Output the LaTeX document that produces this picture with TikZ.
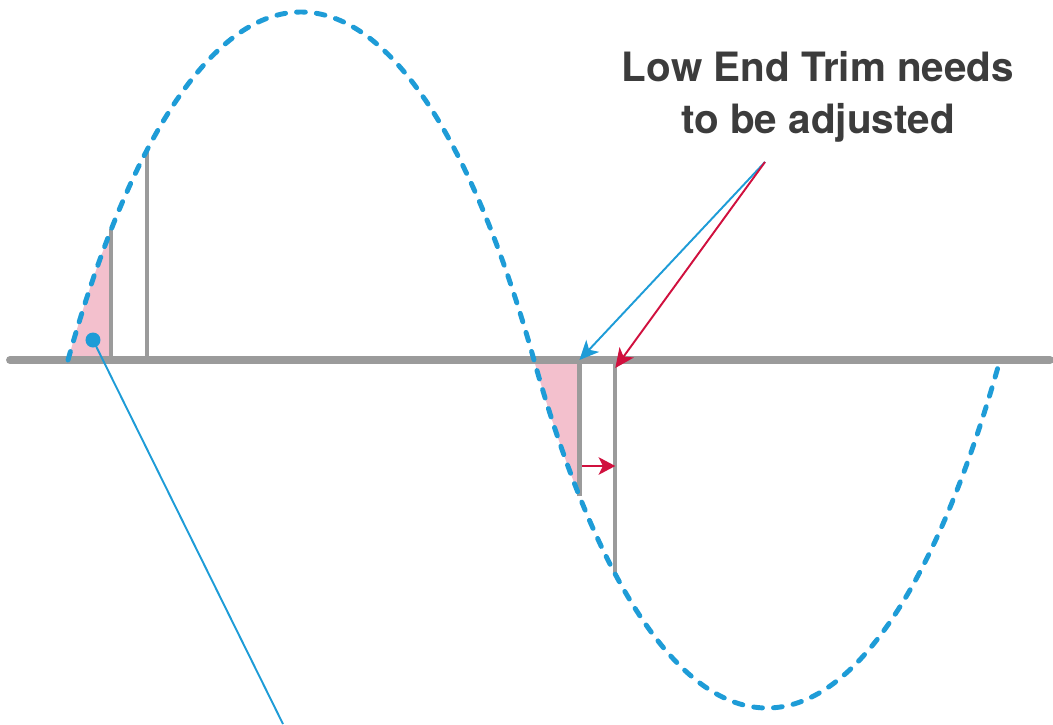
\documentclass[tikz,border=0pt]{standalone}
\usepackage{fontspec}
\setmainfont{TeX Gyre Heros}
\usepackage{tikz}
\usetikzlibrary{
    arrows.meta,
    calc
}

\definecolor{waveblue}{RGB}{30,156,215}
\definecolor{trimred}{RGB}{208,16,62}
\definecolor{trimpink}{RGB}{243,192,205}
\definecolor{axisgray}{RGB}{155,155,155}
\definecolor{textgray}{RGB}{60,60,60}

\begin{document}
\begin{tikzpicture}[scale=1,
    wave/.style={waveblue, line width=2.8pt, dash pattern=on 5pt off 6.3pt, line cap=round},
    stem/.style={axisgray, line width=2.4pt},
    blueptr/.style={waveblue, line width=1.1pt, -{Stealth[length=11pt,width=10pt,inset=3pt]}},
    redptr/.style={trimred, line width=1.1pt, -{Stealth[length=11pt,width=10pt,inset=3pt]}}
]
\useasboundingbox (-1.36,-7.28) rectangle (19.70,7.20);

\coordinate (o) at (0,0);

% points on the wave
\path (0,0) .. controls (2.6,9.28) and (6.72,9.28) .. (9.32,0)
  coordinate[pos=0.105] (a1) coordinate[pos=0.185] (a2);
\path (9.32,0) .. controls (11.92,-9.28) and (16.04,-9.28) .. (18.64,0)
  coordinate[pos=0.11] (b1) coordinate[pos=0.19] (b2);

% trimmed parts
\begin{scope}
  \clip (0,0) rectangle (a1);
  \fill[trimpink] (0,0) .. controls (2.6,9.28) and (6.72,9.28) .. (9.32,0) -- cycle;
\end{scope}
\begin{scope}
  \clip (9.32,0) rectangle (b1);
  \fill[trimpink] (9.32,0) .. controls (11.92,-9.28) and (16.04,-9.28) .. (18.64,0) -- cycle;
\end{scope}

% axis
\draw[axisgray, line width=4.5pt, line cap=round] (-1.16,0) -- (19.64,0);

% samples
\foreach \p in {a1,a2,b1,b2}
  \draw[stem] (\p) -- (\p |- o);

% wave
\draw[wave] (0,0) .. controls (2.6,9.28) and (6.72,9.28) .. (9.32,0)
  .. controls (11.92,-9.28) and (16.04,-9.28) .. (18.64,0);

% label and pointers
\node[textgray, font=\bfseries\fontsize{23}{29.5}\selectfont, align=center]
  (label) at (15.0,5.26) {Low End Trim needs\\to be adjusted};
\coordinate (src) at (13.94,3.96);
\coordinate (tipR) at ($(b2 |- o)+(0,-0.16)$);
\draw[blueptr] (src) -- (b1 |- o);
\draw[redptr] (src) -- (tipR);

\coordinate (s0) at (10.28,-2.12);
\draw[trimred, line width=1.1pt, -{Stealth[length=9.5pt,width=10pt,inset=2.5pt]}] (s0) -- (s0 -| b2);

% marker
\coordinate (dot) at (0.5,0.4);
\coordinate (dotend) at (4.3,-7.28);
\draw[waveblue, line width=1.1pt] (dot) -- (dotend);
\fill[waveblue] (dot) circle (0.15);
\end{tikzpicture}
\end{document}
